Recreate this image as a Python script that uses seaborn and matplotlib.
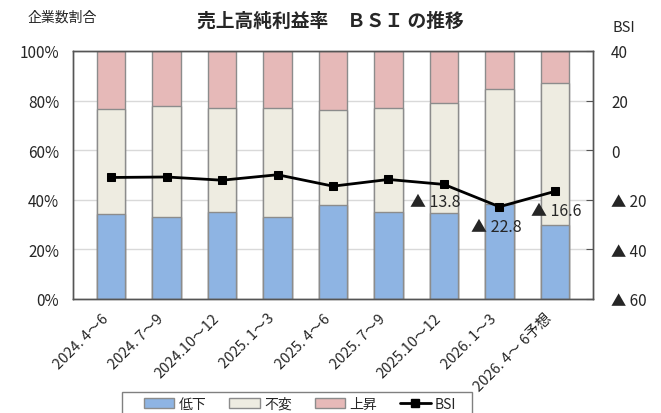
import matplotlib
matplotlib.use("Agg")
import matplotlib.pyplot as plt
import matplotlib.transforms as mtrans
import seaborn as sns
import numpy as np
import pandas as pd
from matplotlib.patches import Patch, Rectangle
from matplotlib.lines import Line2D

# ==== Data ====
periods = ["2024. 4～6", "2024. 7～9", "2024.10～12", "2025. 1～3", "2025. 4～6",
           "2025. 7～9", "2025.10～12", "2026. 1～3", "2026. 4～ 6予想"]
down = [34.2, 33.0, 34.9, 33.0, 38.1, 34.9, 34.7, 38.3, 29.7]   # 低下
flat = [42.6, 44.8, 42.3, 43.9, 38.3, 42.0, 44.4, 46.2, 57.2]   # 不変
up = [23.2, 22.2, 22.8, 23.1, 23.6, 23.1, 20.9, 15.5, 13.1]     # 上昇
bsi = [-11.0, -10.8, -12.1, -9.9, -14.5, -11.8, -13.8, -22.8, -16.6]
labeled = [6, 7, 8]  # points with value labels

right_ticks = [-60, -40, -20, 0, 20, 40]
right_labels = ["▲ 60", "▲ 40", "▲ 20", "0", "20", "40"]

c_down, c_flat, c_up = "#8EB4E3", "#EEECE1", "#E6B9B8"
edge = "#8c8c8c"

sns.set_style("white")
plt.rcParams["font.family"] = ["Noto Sans CJK JP", "DejaVu Sans"]

df = pd.DataFrame({"period": periods, "down": down, "flat": flat, "up": up})
df["mid"] = df["down"] + df["flat"]
df["total"] = df["mid"] + df["up"]

fig = plt.figure(figsize=(6.61, 4.14), dpi=100)
ax = fig.add_axes([73 / 661, 1 - 300 / 414, 520 / 661, 248 / 414])

# stacked bars: draw cumulative totals from the top down
for col, c in [("total", c_up), ("mid", c_flat), ("down", c_down)]:
    sns.barplot(data=df, x="period", y=col, color=c, width=0.52, saturation=1,
                edgecolor=edge, linewidth=1, ax=ax)

ax.set_ylim(0, 100)
ax.set_yticks(range(0, 101, 20))
ax.set_yticklabels([f"{v}%" for v in range(0, 101, 20)])
ax.yaxis.grid(True, color="#d9d9d9", lw=1)
ax.set_axisbelow(True)
ax.set_xlabel("")
ax.set_ylabel("")
ax.tick_params(axis="y", length=0, pad=10, labelsize=11)
ax.tick_params(axis="x", length=0, pad=12, labelsize=10.5)
shift = mtrans.ScaledTranslation(-0.05, 0, fig.dpi_scale_trans)
for t in ax.get_xticklabels():
    t.set_rotation(45)
    t.set_ha("right")
    t.set_va("center")
    t.set_rotation_mode("anchor")
    t.set_transform(t.get_transform() + shift)
for s in ax.spines.values():
    s.set_color("#555555")
    s.set_linewidth(1)

# BSI line on the right axis
ax2 = ax.twinx()
sns.lineplot(x=np.arange(len(bsi)), y=bsi, color="black", lw=2, marker="s",
             markersize=6, markeredgecolor="black", ax=ax2)
ax2.set_ylim(-60, 40)
ax2.set_yticks(right_ticks)
ax2.set_yticklabels(right_labels)
ax2.tick_params(axis="y", direction="in", length=5, color="#555555", pad=13, labelsize=11)
for s in ax2.spines.values():
    s.set_color("#555555")
    s.set_linewidth(1)

offsets = {6: (-9, -17), 7: (-3, -20), 8: (1, -19)}
for i in labeled:
    ax2.annotate(f"▲ {abs(bsi[i])}", xy=(i, bsi[i]), xytext=offsets[i],
                 textcoords="offset pixels", ha="center", va="center", fontsize=11.5)

# texts
fig.text(330 / 661, 1 - 21 / 414, "売上高純利益率　ＢＳＩ の推移", ha="center", va="center",
         fontsize=13.5, fontweight="bold")
fig.text(28 / 661, 1 - 18 / 414, "企業数割合", ha="left", va="center", fontsize=10)
fig.text(612 / 661, 1 - 28 / 414, "BSI", ha="left", va="center", fontsize=10.5)

# legend (frame drawn separately, it runs off the bottom edge)
fig.patches.append(Rectangle((122 / 661, -0.05), 350 / 661, 0.05 + (414 - 393) / 414,
                             transform=fig.transFigure, fill=False,
                             edgecolor="#808080", lw=1))
handles = [Patch(facecolor=c_down, edgecolor=edge), Patch(facecolor=c_flat, edgecolor=edge),
           Patch(facecolor=c_up, edgecolor=edge),
           Line2D([], [], color="black", lw=2, marker="s", markersize=6)]
fig.legend(handles, ["低下", "不変", "上昇", "BSI"], loc="center",
           bbox_to_anchor=(300 / 661, 1 - 405 / 414), ncol=4, frameon=False,
           fontsize=10, handlelength=2.2, handleheight=0.8,
           handletextpad=0.3, columnspacing=1.65, borderaxespad=0, borderpad=0)

fig.savefig("out.png", dpi=100)
